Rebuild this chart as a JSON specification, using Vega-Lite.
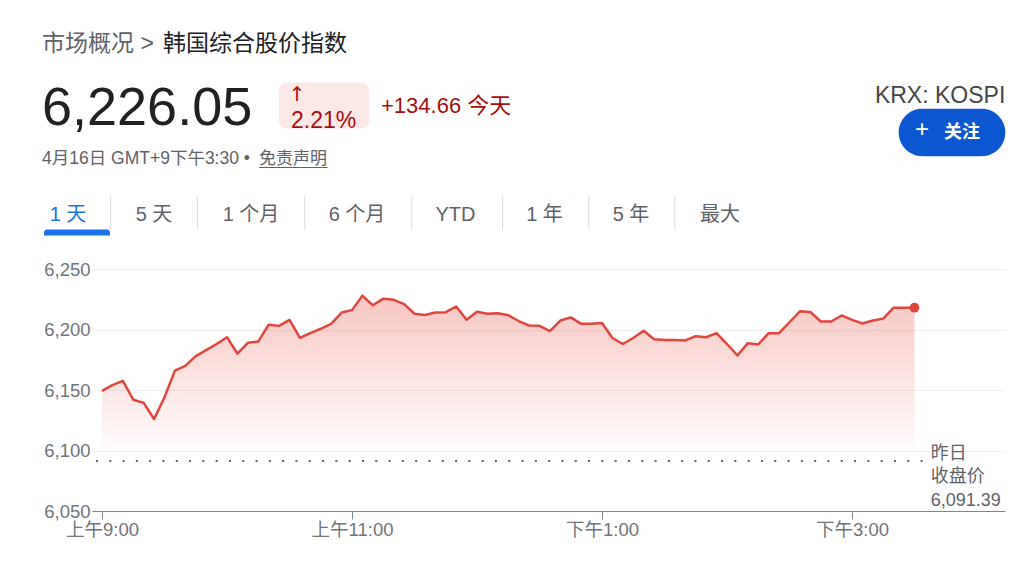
{
  "$schema": "https://vega.github.io/schema/vega-lite/v6.json",
  "width": 913,
  "height": 242,
  "autosize": {"type": "none"},
  "padding": {"left": 92, "top": 269, "right": 19, "bottom": 55},
  "background": "white",
  "config": {
    "view": {"stroke": null},
    "font": "Liberation Sans, Noto Sans CJK SC, sans-serif",
    "text": {"font": "Liberation Sans, Noto Sans CJK SC, sans-serif"},
    "axis": {"labelFont": "Liberation Sans, Noto Sans CJK SC, sans-serif", "title": null},
    "axisX": {"grid": false, "domainColor": "#80868b", "tickColor": "#80868b", "tickSize": 8, "labelFontSize": 18.5,
      "labelColor": "#70757a", "labelPadding": 1, "labelFlush": false, "labelOverlap": false},
    "axisY": {"domain": false, "ticks": false, "gridColor": "#eeeeee", "labelFontSize": 18.5, "labelColor": "#70757a", "labelPadding": 2}
  },
  "datasets": {
    "kospi": [
      {"t": 0, "v": 6149.3}, {"t": 5, "v": 6154}, {"t": 10, "v": 6157.6}, {"t": 15, "v": 6142},
      {"t": 20, "v": 6139.4}, {"t": 25, "v": 6126}, {"t": 30, "v": 6144}, {"t": 35, "v": 6166},
      {"t": 40, "v": 6170}, {"t": 45, "v": 6178}, {"t": 50, "v": 6183}, {"t": 55, "v": 6188},
      {"t": 60, "v": 6193.6}, {"t": 65, "v": 6180}, {"t": 70, "v": 6189}, {"t": 75, "v": 6190},
      {"t": 80, "v": 6204}, {"t": 85, "v": 6203}, {"t": 90, "v": 6208}, {"t": 95, "v": 6193},
      {"t": 100, "v": 6197}, {"t": 105, "v": 6200.6}, {"t": 110, "v": 6204.7}, {"t": 115, "v": 6214},
      {"t": 120, "v": 6216}, {"t": 125, "v": 6228}, {"t": 130, "v": 6220}, {"t": 135, "v": 6225.5},
      {"t": 140, "v": 6224.5}, {"t": 145, "v": 6221}, {"t": 150, "v": 6213}, {"t": 155, "v": 6212},
      {"t": 160, "v": 6214}, {"t": 165, "v": 6214.3}, {"t": 170, "v": 6219}, {"t": 175, "v": 6208},
      {"t": 180, "v": 6214.6}, {"t": 185, "v": 6213}, {"t": 190, "v": 6213.5}, {"t": 195, "v": 6211.8},
      {"t": 200, "v": 6207}, {"t": 205, "v": 6203.3}, {"t": 210, "v": 6203}, {"t": 215, "v": 6198.6},
      {"t": 220, "v": 6207.4}, {"t": 225, "v": 6210}, {"t": 230, "v": 6204.7}, {"t": 235, "v": 6204.7},
      {"t": 240, "v": 6205.3}, {"t": 245, "v": 6193}, {"t": 250, "v": 6188}, {"t": 255, "v": 6193},
      {"t": 260, "v": 6199}, {"t": 265, "v": 6192}, {"t": 270, "v": 6191.3}, {"t": 275, "v": 6191.3},
      {"t": 280, "v": 6191}, {"t": 285, "v": 6194.5}, {"t": 290, "v": 6193.6}, {"t": 295, "v": 6197},
      {"t": 300, "v": 6188}, {"t": 305, "v": 6178.5}, {"t": 310, "v": 6188.7}, {"t": 315, "v": 6187.6},
      {"t": 320, "v": 6197}, {"t": 325, "v": 6197}, {"t": 330, "v": 6206}, {"t": 335, "v": 6215},
      {"t": 340, "v": 6214.5}, {"t": 345, "v": 6206.6}, {"t": 350, "v": 6206.6}, {"t": 355, "v": 6211.6},
      {"t": 360, "v": 6208}, {"t": 365, "v": 6205}, {"t": 370, "v": 6207.4}, {"t": 375, "v": 6209},
      {"t": 380, "v": 6218}, {"t": 385, "v": 6218}, {"t": 390, "v": 6218}
    ],
    "one": [{}]
  },
  "layer": [
    {
      "data": {"name": "kospi"},
      "mark": {
        "type": "area",
        "fill": {"x1": 0, "y1": 0, "x2": 0, "y2": 1, "gradient": "linear",
          "stops": [{"offset": 0, "color": "rgba(234,67,53,0.30)"}, {"offset": 1, "color": "rgba(234,67,53,0.02)"}]}
      },
      "encoding": {
        "x": {"field": "t", "type": "quantitative", "title": null,
          "scale": {"domain": [-4.8, 433.44], "nice": false, "zero": false},
          "axis": {"values": [0, 120, 240, 360], "title": null,
            "labelExpr": "datum.value == 0 ? '上午9:00' : datum.value == 120 ? '上午11:00' : datum.value == 240 ? '下午1:00' : '下午3:00'"}},
        "y": {"field": "v", "type": "quantitative", "title": null,
          "scale": {"domain": [6050, 6250], "nice": false, "zero": false},
          "axis": {"values": [6050, 6100, 6150, 6200, 6250], "title": null,
            "labelExpr": "format(datum.value, ',')"}},
        "y2": {"datum": 6102.5}
      }
    },
    {
      "data": {"name": "kospi"},
      "mark": {"type": "line", "color": "#e2453c", "strokeWidth": 2.5, "strokeJoin": "round"},
      "encoding": {
        "x": {"field": "t", "type": "quantitative"},
        "y": {"field": "v", "type": "quantitative"}
      }
    },
    {
      "data": {"name": "kospi"},
      "transform": [{"filter": "datum.t == 390"}],
      "mark": {"type": "circle", "color": "#e2453c", "size": 95, "opacity": 1},
      "encoding": {
        "x": {"field": "t", "type": "quantitative"},
        "y": {"field": "v", "type": "quantitative"}
      }
    },
    {
      "data": {"name": "one"},
      "mark": {"type": "rule", "color": "#5f6368", "strokeWidth": 2, "strokeDash": [2, 11.3], "strokeCap": "butt"},
      "encoding": {
        "x": {"datum": -2.9, "type": "quantitative"},
        "x2": {"datum": 394},
        "y": {"datum": 6091.39, "type": "quantitative"}
      }
    },
    {
      "data": {"name": "one"},
      "mark": {"type": "text", "text": ["昨日", "收盘价", "6,091.39"], "align": "left", "baseline": "middle",
        "lineHeight": 23.5, "fontSize": 18, "color": "#5f6368"},
      "encoding": {
        "x": {"datum": 397.8, "type": "quantitative"},
        "y": {"datum": 6097.52, "type": "quantitative"}
      }
    },
    {
      "data": {"name": "one"},
      "mark": {"type": "text", "text": "市场概况 >", "align": "left", "baseline": "middle", "fontSize": 23, "color": "#5f6368"},
      "encoding": {
        "x": {"datum": -28.8, "type": "quantitative"},
        "y": {"datum": 6435.95, "type": "quantitative"}
      }
    },
    {
      "data": {"name": "one"},
      "mark": {"type": "text", "text": "韩国综合股价指数", "align": "left", "baseline": "middle", "fontSize": 23, "color": "#202124"},
      "encoding": {
        "x": {"datum": 29.28, "type": "quantitative"},
        "y": {"datum": 6435.95, "type": "quantitative"}
      }
    },
    {
      "data": {"name": "one"},
      "mark": {"type": "text", "text": "6,226.05", "align": "left", "baseline": "alphabetic", "fontSize": 54, "color": "#202124"},
      "encoding": {
        "x": {"datum": -28.8, "type": "quantitative"},
        "y": {"datum": 6369.42, "type": "quantitative"}
      }
    },
    {
      "data": {"name": "one"},
      "mark": {"type": "rect", "color": "#fce8e6", "cornerRadius": 8},
      "encoding": {
        "x": {"datum": 84.96, "type": "quantitative"},
        "x2": {"datum": 128.16},
        "y": {"datum": 6404.13, "type": "quantitative"},
        "y2": {"datum": 6366.12}
      }
    },
    {
      "data": {"name": "one"},
      "mark": {"type": "text", "text": "↑", "align": "center", "baseline": "middle", "fontSize": 20, "font": "DejaVu Sans", "color": "#a50e0e"},
      "encoding": {
        "x": {"datum": 93.6, "type": "quantitative"},
        "y": {"datum": 6394.21, "type": "quantitative"}
      }
    },
    {
      "data": {"name": "one"},
      "mark": {"type": "text", "text": "2.21%", "align": "left", "baseline": "alphabetic", "fontSize": 23, "color": "#a50e0e"},
      "encoding": {
        "x": {"datum": 90.72, "type": "quantitative"},
        "y": {"datum": 6366.94, "type": "quantitative"}
      }
    },
    {
      "data": {"name": "one"},
      "mark": {"type": "text", "text": "+134.66 今天", "align": "left", "baseline": "alphabetic", "fontSize": 22, "color": "#a50e0e"},
      "encoding": {
        "x": {"datum": 133.92, "type": "quantitative"},
        "y": {"datum": 6378.76, "type": "quantitative"}
      }
    },
    {
      "data": {"name": "one"},
      "mark": {"type": "text", "text": "4月16日 GMT+9下午3:30 •", "align": "left", "baseline": "alphabetic", "fontSize": 17.5, "color": "#5f6368"},
      "encoding": {
        "x": {"datum": -28.8, "type": "quantitative"},
        "y": {"datum": 6337.19, "type": "quantitative"}
      }
    },
    {
      "data": {"name": "one"},
      "mark": {"type": "text", "text": "免责声明", "align": "left", "baseline": "alphabetic", "fontSize": 17, "color": "#5f6368"},
      "encoding": {
        "x": {"datum": 75.36, "type": "quantitative"},
        "y": {"datum": 6337.19, "type": "quantitative"}
      }
    },
    {
      "data": {"name": "one"},
      "mark": {"type": "rule", "color": "#5f6368", "strokeWidth": 1},
      "encoding": {
        "x": {"datum": 75.36, "type": "quantitative"},
        "x2": {"datum": 108.29},
        "y": {"datum": 6333.88, "type": "quantitative"}
      }
    },
    {
      "data": {"name": "one"},
      "mark": {"type": "text", "text": "1 天", "align": "center", "baseline": "middle", "fontSize": 20, "color": "#1a73e8"},
      "encoding": {"x": {"datum": -16.32, "type": "quantitative"}, "y": {"datum": 6295.04, "type": "quantitative"}}
    },
    {
      "data": {"name": "one"},
      "mark": {"type": "text", "text": "5 天", "align": "center", "baseline": "middle", "fontSize": 20, "color": "#5f6368"},
      "encoding": {"x": {"datum": 24.96, "type": "quantitative"}, "y": {"datum": 6295.04, "type": "quantitative"}}
    },
    {
      "data": {"name": "one"},
      "mark": {"type": "text", "text": "1 个月", "align": "center", "baseline": "middle", "fontSize": 20, "color": "#5f6368"},
      "encoding": {"x": {"datum": 71.52, "type": "quantitative"}, "y": {"datum": 6295.04, "type": "quantitative"}}
    },
    {
      "data": {"name": "one"},
      "mark": {"type": "text", "text": "6 个月", "align": "center", "baseline": "middle", "fontSize": 20, "color": "#5f6368"},
      "encoding": {"x": {"datum": 122.4, "type": "quantitative"}, "y": {"datum": 6295.04, "type": "quantitative"}}
    },
    {
      "data": {"name": "one"},
      "mark": {"type": "text", "text": "YTD", "align": "center", "baseline": "middle", "fontSize": 20, "color": "#5f6368"},
      "encoding": {"x": {"datum": 169.68, "type": "quantitative"}, "y": {"datum": 6295.04, "type": "quantitative"}}
    },
    {
      "data": {"name": "one"},
      "mark": {"type": "text", "text": "1 年", "align": "center", "baseline": "middle", "fontSize": 20, "color": "#5f6368"},
      "encoding": {"x": {"datum": 212.4, "type": "quantitative"}, "y": {"datum": 6295.04, "type": "quantitative"}}
    },
    {
      "data": {"name": "one"},
      "mark": {"type": "text", "text": "5 年", "align": "center", "baseline": "middle", "fontSize": 20, "color": "#5f6368"},
      "encoding": {"x": {"datum": 253.92, "type": "quantitative"}, "y": {"datum": 6295.04, "type": "quantitative"}}
    },
    {
      "data": {"name": "one"},
      "mark": {"type": "text", "text": "最大", "align": "center", "baseline": "middle", "fontSize": 20, "color": "#5f6368"},
      "encoding": {"x": {"datum": 296.64, "type": "quantitative"}, "y": {"datum": 6295.04, "type": "quantitative"}}
    },
    {
      "data": {"name": "one"},
      "mark": {"type": "rule", "color": "#dadce0", "strokeWidth": 1},
      "encoding": {"x": {"datum": 4.08, "type": "quantitative"}, "y": {"datum": 6309.92, "type": "quantitative"}, "y2": {"datum": 6282.64}}
    },
    {
      "data": {"name": "one"},
      "mark": {"type": "rule", "color": "#dadce0", "strokeWidth": 1},
      "encoding": {"x": {"datum": 45.89, "type": "quantitative"}, "y": {"datum": 6309.92, "type": "quantitative"}, "y2": {"datum": 6282.64}}
    },
    {
      "data": {"name": "one"},
      "mark": {"type": "rule", "color": "#dadce0", "strokeWidth": 1},
      "encoding": {"x": {"datum": 97.3, "type": "quantitative"}, "y": {"datum": 6309.92, "type": "quantitative"}, "y2": {"datum": 6282.64}}
    },
    {
      "data": {"name": "one"},
      "mark": {"type": "rule", "color": "#dadce0", "strokeWidth": 1},
      "encoding": {"x": {"datum": 148.66, "type": "quantitative"}, "y": {"datum": 6309.92, "type": "quantitative"}, "y2": {"datum": 6282.64}}
    },
    {
      "data": {"name": "one"},
      "mark": {"type": "rule", "color": "#dadce0", "strokeWidth": 1},
      "encoding": {"x": {"datum": 192.24, "type": "quantitative"}, "y": {"datum": 6309.92, "type": "quantitative"}, "y2": {"datum": 6282.64}}
    },
    {
      "data": {"name": "one"},
      "mark": {"type": "rule", "color": "#dadce0", "strokeWidth": 1},
      "encoding": {"x": {"datum": 233.62, "type": "quantitative"}, "y": {"datum": 6309.92, "type": "quantitative"}, "y2": {"datum": 6282.64}}
    },
    {
      "data": {"name": "one"},
      "mark": {"type": "rule", "color": "#dadce0", "strokeWidth": 1},
      "encoding": {"x": {"datum": 274.94, "type": "quantitative"}, "y": {"datum": 6309.92, "type": "quantitative"}, "y2": {"datum": 6282.64}}
    },
    {
      "data": {"name": "one"},
      "mark": {"type": "rect", "color": "#1a73e8", "cornerRadiusTopLeft": 4, "cornerRadiusTopRight": 4},
      "encoding": {
        "x": {"datum": -27.84, "type": "quantitative"},
        "x2": {"datum": 3.84},
        "y": {"datum": 6282.64, "type": "quantitative"},
        "y2": {"datum": 6277.69}
      }
    },
    {
      "data": {"name": "one"},
      "mark": {"type": "text", "text": "KRX: KOSPI", "align": "right", "baseline": "alphabetic", "fontSize": 23, "color": "#444746"},
      "encoding": {
        "x": {"datum": 433.58, "type": "quantitative"},
        "y": {"datum": 6387.02, "type": "quantitative"}
      }
    },
    {
      "data": {"name": "one"},
      "mark": {"type": "rect", "color": "#0b57d0", "cornerRadius": 24},
      "encoding": {
        "x": {"datum": 382.4, "type": "quantitative"},
        "x2": {"datum": 433.6},
        "y": {"datum": 6382.4, "type": "quantitative"},
        "y2": {"datum": 6343.22}
      }
    },
    {
      "data": {"name": "one"},
      "mark": {"type": "text", "text": "+", "align": "center", "baseline": "middle", "fontSize": 24, "color": "#ffffff"},
      "encoding": {
        "x": {"datum": 393.6, "type": "quantitative"},
        "y": {"datum": 6364.5, "type": "quantitative"}
      }
    },
    {
      "data": {"name": "one"},
      "mark": {"type": "text", "text": "关注", "align": "center", "baseline": "middle", "fontSize": 18, "fontWeight": "bold", "color": "#ffffff"},
      "encoding": {
        "x": {"datum": 412.8, "type": "quantitative"},
        "y": {"datum": 6362.4, "type": "quantitative"}
      }
    }
  ]
}
